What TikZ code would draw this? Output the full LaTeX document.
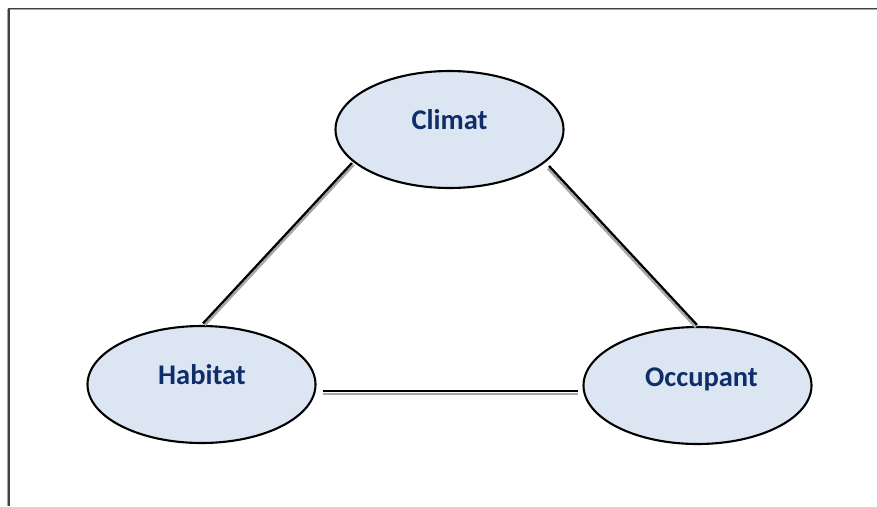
\documentclass[tikz,border=0pt]{standalone}
\usepackage{fontspec}
\setmainfont{Carlito}
\usetikzlibrary{shapes.geometric,calc}
\definecolor{ellfill}{HTML}{DCE6F2}
\definecolor{txtblue}{HTML}{0F2D69}
\definecolor{shadowgray}{HTML}{A6A6A6}
\definecolor{framedark}{HTML}{404040}
\tikzset{
  bubble/.style={ellipse, draw=black, line width=2.1pt, fill=ellfill,
    minimum width=228pt, minimum height=117pt, inner sep=0pt},
  bubbletext/.style={text=txtblue, font=\bfseries\fontsize{28.5}{33}\selectfont, inner sep=0pt},
  linkline/.style={draw=black, line width=2.3pt},
  linkshadow/.style={draw=shadowgray, line width=2.3pt},
}
\begin{document}
\begin{tikzpicture}[x=1pt,y=-1pt]
\useasboundingbox (0,0) rectangle (877,506);
\fill[white] (0,0) rectangle (877,506);
% frame
\coordinate (ftl) at (9,8.5);
\coordinate (ftr) at (877,8.5);
\coordinate (fbl) at (9,506);
\draw[shadowgray, line width=1pt] ($(ftl)+(-0.5,1.4)$) -- ($(ftr)+(0,1.4)$);
\draw[shadowgray, line width=1pt] ($(ftl)+(-1.4,0)$) -- ($(fbl)+(-1.4,0)$);
\draw[framedark, line width=1.5pt] (ftr) -- (ftl) -- (fbl);
% ellipses
\node[bubble] (climat) at (449.5,129.5) {};
\node[bubble] (habitat) at (201.5,384.5) {};
\node[bubble] (occupant) at (697.5,385.5) {};
\node[bubbletext] (climatT) at ($(climat.center)+(0,-10)$) {Climat};
\node[bubbletext] (habitatT) at ($(habitat.center)+(0.5,-10)$) {Habitat};
\node[bubbletext] (occupantT) at ($(occupant.center)+(4,-6)$) {Occupant};
% connectors
\coordinate (c1) at ($(climat.center)+(-97.5,33.5)$);
\coordinate (h1) at ($(habitat.north)+(1.5,-1.5)$);
\coordinate (c2) at ($(climat.center)+(99.5,36.5)$);
\coordinate (o1) at ($(occupant.north)+(-0.5,-1)$);
\coordinate (h2) at ($(habitat.east)+(6,6.2)$);
\coordinate (o2) at ($(occupant.west)+(-4,5.2)$);
\draw[linkshadow] ($(c1)+(1.8,1.8)$) -- ($(h1)+(1.8,1.8)$);
\draw[linkshadow] ($(c2)+(-1.2,2.5)$) -- ($(o1)+(-1.2,2.5)$);
\draw[linkshadow] ($(h2)+(0,3.4)$) -- ($(o2)+(0,3.4)$);
\draw[linkline] (c1) -- (h1);
\draw[linkline] (c2) -- (o1);
\draw[linkline] (h2) -- (o2);
\end{tikzpicture}
\end{document}
